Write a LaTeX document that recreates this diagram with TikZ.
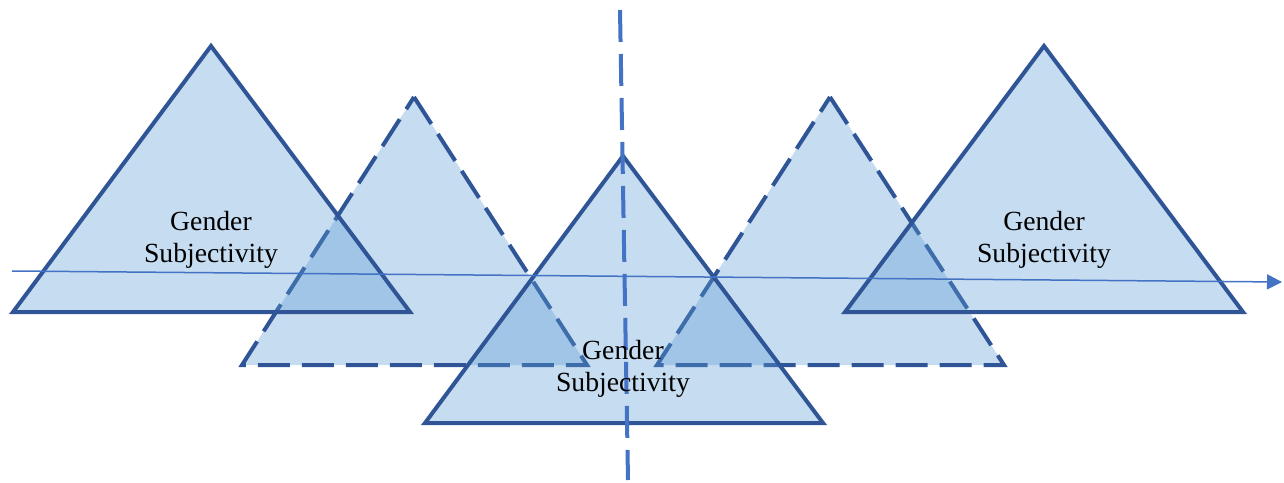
\documentclass[tikz,border=0pt]{standalone}
\usepackage{fontspec}
\setmainfont{Liberation Serif}
\usetikzlibrary{arrows.meta}
\definecolor{edgeblue}{HTML}{2F5597}
\definecolor{fillblue}{HTML}{5B9BD5}
\definecolor{axisblue}{HTML}{4472C4}
\tikzset{
  tri/.style={draw=edgeblue, line width=2pt, fill=fillblue, fill opacity=0.35, line join=miter},
  dashtri/.style={tri, dash pattern=on 16pt off 6pt},
  lbl/.style={align=center, font=\fontsize{13.85}{16.25}\selectfont, inner sep=0pt}
}

\begin{document}
\begin{tikzpicture}[x=0.5pt, y=-0.5pt, >=Stealth]
\useasboundingbox (0,0) rectangle (1284,482);
% dashed triangles first, the solid ones lie over them
\draw[dashtri] (414,97) -- (587,365) -- (242,365) -- cycle;
\draw[dashtri] (830,97) -- (1004,365) -- (657,365) -- cycle;
\draw[tri] (211,46) -- (410,312) -- (13,312) -- cycle;
\draw[tri] (623,156) -- (823,423) -- (425,423) -- cycle;
\draw[tri] (1044,46) -- (1243,312) -- (845,312) -- cycle;
% axes
\coordinate (axs) at (12,271);
\coordinate (axe) at (1282,282);
\draw[->, axisblue, line width=0.75pt, arrows={-Triangle[length=7.5pt, width=7.5pt]}] (axs) -- (axe);
\coordinate (vtop) at (620,10);
\coordinate (vbot) at (628,480);
\draw[axisblue, line width=2pt, dash pattern=on 16pt off 6pt] (vtop) -- (vbot);
% labels
\node[lbl] (gsl) at (211,240) {Gender\\Subjectivity};
\node[lbl] (gsc) at (623,369) {Gender\\Subjectivity};
\node[lbl] (gsr) at (1044,240) {Gender\\Subjectivity};
\end{tikzpicture}
\end{document}
